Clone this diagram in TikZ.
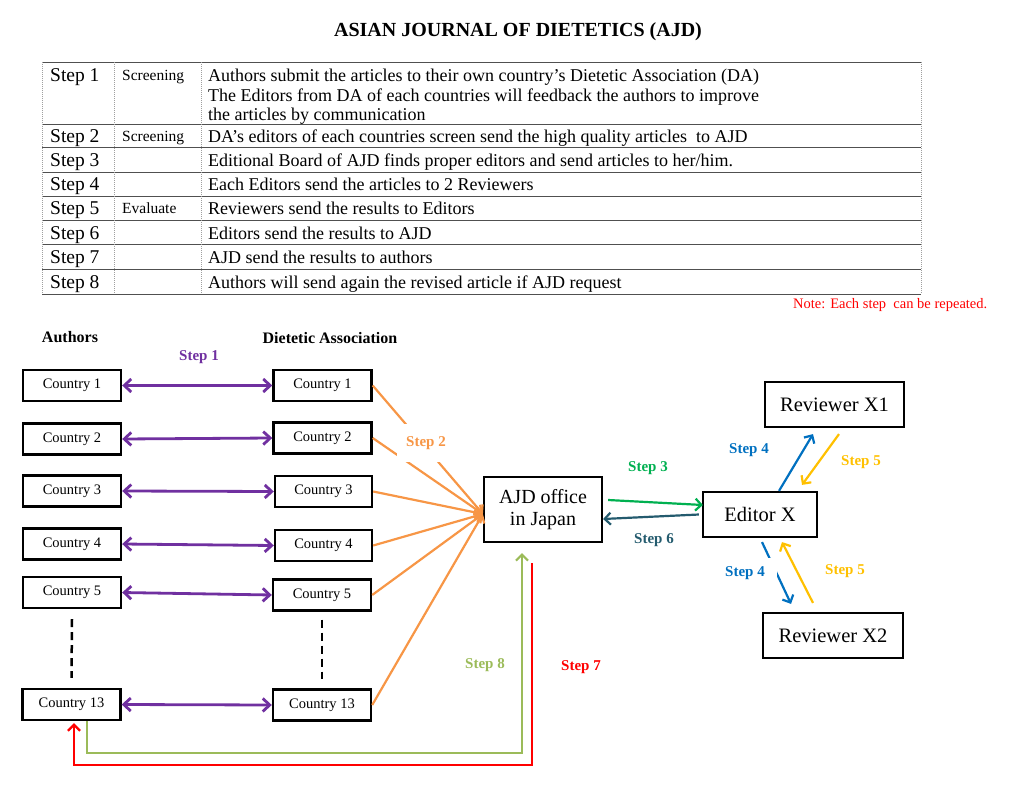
\documentclass[tikz,border=0pt]{standalone}
\usepackage{fontspec}
\setmainfont{Liberation Serif}
\usetikzlibrary{arrows.meta,calc}
\definecolor{cpurple}{HTML}{7030A0}
\definecolor{corange}{HTML}{F79646}
\definecolor{cgreen}{HTML}{00B050}
\definecolor{cteal}{HTML}{245B6E}
\definecolor{cblue}{HTML}{0070C0}
\definecolor{cyellow}{HTML}{FFC000}
\definecolor{colive}{HTML}{9BBB59}
\definecolor{cred}{HTML}{FF0000}
\definecolor{tline}{HTML}{505050}
\begin{document}
\begin{tikzpicture}[x=1pt,y=-1pt,
  box/.style={draw, line width=2.4pt, minimum width=98pt, minimum height=31pt, inner sep=0pt, font=\fontsize{14.5}{16}\selectfont},
  bigbox/.style={draw, line width=2.2pt, inner sep=0pt, font=\fontsize{20.5}{23}\selectfont},
  lbl/.style={font=\bfseries\fontsize{15}{18}\selectfont, inner sep=1pt},
  hdr/.style={font=\bfseries\fontsize{16}{18}\selectfont, inner sep=0pt},
  tb/.style={font=\fontsize{18}{20}\selectfont, inner sep=0pt, anchor=base west},
  tstep/.style={font=\fontsize{19.5}{20}\selectfont, inner sep=0pt, anchor=base west},
  tcat/.style={font=\fontsize{15.5}{18}\selectfont, inner sep=0pt, anchor=base west},
  vsep/.style={draw=gray!75, line width=0.6pt, dash pattern=on 1pt off 1pt},
  hsep/.style={draw=tline, line width=0.9pt},
  dbl/.style={{Straight Barb[length=7pt,width=13pt]}-{Straight Barb[length=7pt,width=13pt]}, line width=2.8pt, draw=cpurple},
  one/.style={-{Straight Barb[length=6pt,width=12pt]}, line width=2.2pt},
  vdash/.style={line width=2.5pt, dash pattern=on 8pt off 5pt}
]
\useasboundingbox (0,0) rectangle (1024,799);

% ---------- title ----------
\node[font=\bfseries\fontsize{20}{22}\selectfont, inner sep=0pt] (title) at (518,32) {ASIAN JOURNAL OF DIETETICS (AJD)};

% ---------- table ----------
\foreach \yy in {62,124,147,172,196,220,244.5,269,294}
  \draw[hsep] (42,\yy) -- (921,\yy);
\foreach \xx in {42,114,201,921}
  \draw[vsep] (\xx,62) -- (\xx,294);

\node[tstep] (st1) at (50,81.5) {Step 1};
\node[tstep] (st2) at (50,142.5) {Step 2};
\node[tstep] (st3) at (50,167) {Step 3};
\node[tstep] (st4) at (50,191) {Step 4};
\node[tstep] (st5) at (50,215) {Step 5};
\node[tstep] (st6) at (50,239.5) {Step 6};
\node[tstep] (st7) at (50,264) {Step 7};
\node[tstep] (st8) at (50,288.5) {Step 8};

\node[tcat] (sc1) at (122,80.5) {Screening};
\node[tcat] (sc2) at (122,141.5) {Screening};
\node[tcat] (ev5) at (122,214) {Evaluate};

\node[tb] (t1a) at (208,81.5) {Authors submit the articles to their own country’s Dietetic Association (DA)};
\node[tb] (t1b) at (208,101.5) {The Editors from DA of each countries will feedback the authors to improve};
\node[tb] (t1c) at (208,121) {the articles by communication};
\node[tb] (t2) at (208,142.5) {DA’s editors of each countries screen send the high quality articles\ \ to AJD};
\node[tb] (t3) at (208,167) {Editional Board of AJD finds proper editors and send articles to her/him.};
\node[tb] (t4) at (208,191) {Each Editors send the articles to 2 Reviewers};
\node[tb] (t5) at (208,215) {Reviewers send the results to Editors};
\node[tb] (t6) at (208,239.5) {Editors send the results to AJD};
\node[tb] (t7) at (208,264) {AJD send the results to authors};
\node[tb] (t8) at (208,288.5) {Authors will send again the revised article if AJD request};

\node[font=\fontsize{14.5}{16}\selectfont, text=cred, inner sep=0pt, anchor=base west] (note) at (793,308.5) {Note: Each step\ \ can be repeated.};

% ---------- headers ----------
\node[hdr] (hauth) at (70,337) {Authors};
\node[hdr] (hda) at (330,338) {Dietetic Association};

% ---------- country boxes ----------
\node[box] (a1) at (72,385.5) {Country 1};
\node[box] (a2) at (72,439) {Country 2};
\node[box] (a3) at (72,491) {Country 3};
\node[box] (a4) at (72,544) {Country 4};
\node[box] (a5) at (72,592.5) {Country 5};
\node[box] (a13) at (71.5,704.5) {Country 13};

\node[box] (d1) at (322.5,385.5) {Country 1};
\node[box] (d2) at (322.5,438) {Country 2};
\node[box, minimum width=97pt] (d3) at (323.5,491.5) {Country 3};
\node[box, minimum width=97pt] (d4) at (323.5,545.5) {Country 4};
\node[box] (d5) at (322,595) {Country 5};
\node[box] (d13) at (322,705) {Country 13};

% ---------- dashed ellipsis lines ----------
\draw[vdash] ($(a5.south)+(0,10)$) -- ($(a13.north)+(0,-10)$);
\draw[vdash] ($(d5.south)+(0,8)$) -- ($(d13.north)+(0,-9)$);

% ---------- step 1 arrows ----------
\foreach \i in {1,2,3,4,5,13}
  \draw[dbl] (a\i.east) -- (d\i.west);
\node[lbl, text=cpurple] (s1) at (199,357) {Step 1};

% ---------- AJD, editor, reviewers ----------
\node[bigbox, minimum width=118pt, minimum height=65pt, align=center, font=\fontsize{20}{22}\selectfont] (ajd) at (543,509.5) {AJD office\\in Japan};
\node[bigbox, minimum width=114pt, minimum height=45pt] (ed) at (760,514.5) {Editor X};
\node[bigbox, minimum width=139pt, minimum height=45pt] (r1) at (834.5,404.5) {Reviewer X1};
\node[bigbox, minimum width=140pt, minimum height=45pt] (r2) at (833,635.5) {Reviewer X2};

% ---------- step 2 ----------
\foreach \i in {1,2,3,4,5,13}
  \draw[one, draw=corange] (d\i.east) -- ($(ajd.west)+(0,4.5)$);
\node[lbl, text=corange, fill=white, minimum width=59pt, minimum height=38pt] (s2) at (426,443) {Step 2};

% ---------- step 3 / 6 ----------
\draw[one, draw=cgreen] ($(ajd.east)+(5,-9.5)$) -- ($(ed.west)+(1,-9.5)$);
\node[lbl, text=cgreen] (s3) at (648,468) {Step 3};
\draw[one, draw=cteal] ($(ed.west)+(-3,0)$) -- ($(ajd.east)+(0,9.5)$);
\node[lbl, text=cteal] (s6) at (654,540) {Step 6};

% ---------- step 4 / 5 ----------
\draw[one, draw=cblue] ($(ed.north)+(19,0)$) -- ($(r1.south)+(-21.5,6)$);
\node[lbl, text=cblue] (s4a) at (749,450) {Step 4};
\draw[one, draw=cyellow] ($(r1.south)+(4.5,6)$) -- ($(ed.north)+(42,-6)$);
\node[lbl, text=cyellow] (s5a) at (861,462) {Step 5};

\draw[one, draw=cblue] ($(ed.south)+(2,4)$) -- ($(r2.north)+(-42,-8)$);
\node[lbl, text=cblue, fill=white, minimum width=64pt, minimum height=30pt] (s4b) at (745,573) {Step 4};
\draw[one, draw=cyellow] ($(r2.north)+(-20,-9)$) -- ($(ed.south)+(22,4)$);
\node[lbl, text=cyellow] (s5b) at (845,571) {Step 5};

% ---------- step 7 / 8 ----------
\draw[one, draw=colive] ($(a13.south)+(15.5,0)$) -- ++(0,32) -| ($(ajd.south)+(-21,10)$);
\node[lbl, text=colive] (s8) at (485,665) {Step 8};
\draw[one, draw=cred] ($(ajd.south)+(-11,20)$) -- ++(0,202) -| ($(a13.south)+(2.5,2)$);
\node[lbl, text=cred] (s7) at (581,667) {Step 7};
\end{tikzpicture}
\end{document}
